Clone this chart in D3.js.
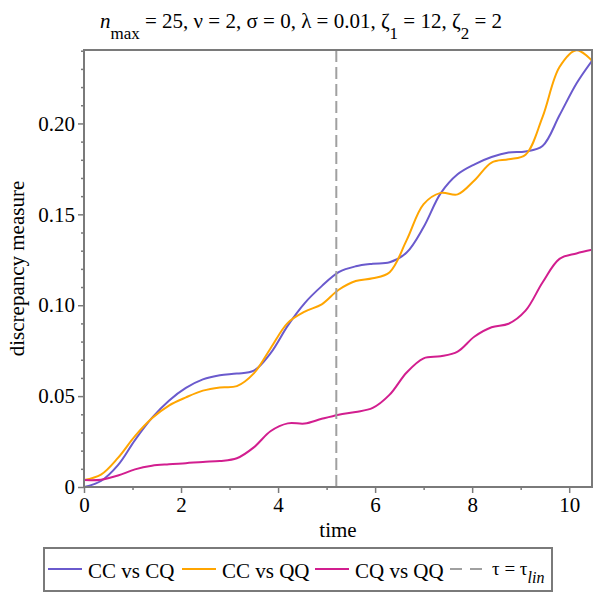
<!DOCTYPE html>
<html>
<head>
<meta charset="utf-8">
<script src="https://cdn.jsdelivr.net/npm/d3@7"></script>
<style>
body{margin:0;background:#fff;}
text{font-family:"Liberation Serif","Times New Roman",serif;fill:#000;}
</style>
</head>
<body>
<svg id="chart" width="600" height="600"></svg>
<script>
// values
let times=[0,0.35,0.7,1.05,1.4,1.75,2.1,2.45,2.8,3.15,3.5,3.85,4.2,4.55,4.9,5.25,5.6,5.95,6.3,6.65,7.0,7.35,7.7,8.05,8.4,8.75,9.1,9.45,9.8,10.15,10.47];

let ccCQ=[0,0.0033,0.012,0.0258,0.038,0.0475,0.0545,0.0592,0.0615,0.0624,0.064,0.0738,0.0888,0.1012,0.1105,0.1182,0.1214,0.1228,0.1236,0.129,0.143,0.1615,0.172,0.1775,0.1815,0.184,0.1846,0.1876,0.2045,0.222,0.2345];

let ccQQ=[0.0038,0.0068,0.016,0.028,0.0378,0.0448,0.0493,0.053,0.0548,0.0555,0.0625,0.0765,0.0903,0.0965,0.1005,0.1085,0.1133,0.1148,0.1182,0.1358,0.1556,0.1618,0.161,0.1688,0.1785,0.1803,0.1828,0.2035,0.231,0.2403,0.2345];

let cqQQ=[0.0038,0.004,0.0063,0.0097,0.0117,0.0125,0.0131,0.0138,0.0143,0.0158,0.0218,0.0308,0.035,0.0349,0.0375,0.0398,0.0413,0.0435,0.0508,0.063,0.0708,0.0719,0.0745,0.0828,0.0879,0.0898,0.097,0.1125,0.1255,0.1285,0.1305];

let seriesNames=["CC vs CQ","CC vs QQ","CQ vs QQ"];
let seriesCols=["#6a5acd","#ffa500","#d21e8f"];
let tauLin=5.2;
let xTicks=[0,2,4,6,8,10];
let xMinor=[1,3,5,7,9];
let yTicks=[0,0.05,0.10,0.15,0.20];
let yMinor=[0.01,0.02,0.03,0.04,0.06,0.07,0.08,0.09,0.11,0.12,0.13,0.14,0.16,0.17,0.18,0.19,0.21,0.22,0.23,0.24];

let svg=d3.select("#chart");
let L=84,R=592,T=50,B=487;
let axCol="#7a7a7a";
let serif="Liberation Serif";

let x=d3.scaleLinear().domain([0,10.47]).range([L,R]);
let y=d3.scaleLinear().domain([0,0.2404]).range([B,T]);

svg.append("defs").append("clipPath").attr("id","clip").append("rect").attr("x",L).attr("y",T-1).attr("width",R-L).attr("height",B-T+1);

// ticks
let gx=svg.append("g").attr("transform",`translate(0,${B})`).call(d3.axisBottom(x).tickValues(xTicks).tickFormat(d3.format("d")).tickSize(6).tickPadding(4));
let gxm=svg.append("g").attr("transform",`translate(0,${B})`).call(d3.axisBottom(x).tickValues(xMinor).tickFormat("").tickSize(3));
let gy=svg.append("g").attr("transform",`translate(${L},0)`).call(d3.axisLeft(y).tickValues(yTicks).tickFormat(d=>d==0?"0":d3.format(".2f")(d)).tickSize(6).tickPadding(3));
let gym=svg.append("g").attr("transform",`translate(${L},0)`).call(d3.axisLeft(y).tickValues(yMinor.filter(d=>d<=0.2404)).tickFormat("").tickSize(3));
[gx,gxm,gy,gym].forEach(g=>{
  g.select(".domain").remove();
  g.selectAll("line").attr("stroke",axCol).attr("stroke-width",1.5);
  g.selectAll("text").style("font-family",serif).style("font-size","21px").attr("fill","#000");
});

// series
let lineGen=d3.line().x(d=>x(d[0])).y(d=>y(d[1])).curve(d3.curveCatmullRom.alpha(0.5));
let allSeries=[ccCQ,ccQQ,cqQQ];
let plot=svg.append("g").attr("clip-path","url(#clip)");
allSeries.forEach((s,i)=>{
  plot.append("path").datum(times.map((t,k)=>[t,s[k]])).attr("d",lineGen).attr("fill","none").attr("stroke",seriesCols[i]).attr("stroke-width",2);
});

// tau_lin marker
svg.append("line").attr("x1",x(tauLin)).attr("x2",x(tauLin)).attr("y1",T).attr("y2",B).attr("stroke","#a0a0a0").attr("stroke-width",2).attr("stroke-dasharray","12,5");

// frame
svg.append("rect").attr("x",L).attr("y",T).attr("width",R-L).attr("height",B-T).attr("fill","none").attr("stroke",axCol).attr("stroke-width",2);

// title
let title=svg.append("text").attr("x",100).attr("y",28).style("font-family",serif).style("font-size","21px");
title.append("tspan").text("n").style("font-style","italic");
title.append("tspan").text("max").style("font-size","17px").attr("dy",11);
title.append("tspan").text(" = 25, ν = 2, σ = 0, λ = 0.01, ζ").attr("dy",-11);
title.append("tspan").text("1").style("font-size","17px").attr("dy",11);
title.append("tspan").text(" = 12, ζ").attr("dy",-11);
title.append("tspan").text("2").style("font-size","17px").attr("dy",11);
title.append("tspan").text(" = 2").attr("dy",-11);

// axis labels
svg.append("text").text("time").attr("x",(L+R)/2).attr("y",537).style("font-family",serif).style("text-anchor","middle").style("font-size","21px");
svg.append("text").text("discrepancy measure").attr("transform",`translate(24,${(T+B)/2}) rotate(-90)`).style("font-family",serif).style("text-anchor","middle").style("font-size","21px");

// legend
svg.append("rect").attr("x",44).attr("y",548).attr("width",508).attr("height",43).attr("fill","none").attr("stroke",axCol).attr("stroke-width",2);
let legX=[48,182,315,450];
let legY=569;
seriesNames.forEach((n,i)=>{
  svg.append("line").attr("x1",legX[i]).attr("x2",legX[i]+34).attr("y1",legY).attr("y2",legY).attr("stroke",seriesCols[i]).attr("stroke-width",2);
  svg.append("text").text(n).attr("x",legX[i]+40).attr("y",578).style("font-family",serif).style("font-size","21px");
});
svg.append("line").attr("x1",legX[3]).attr("x2",legX[3]+34).attr("y1",legY).attr("y2",legY).attr("stroke","#a0a0a0").attr("stroke-width",2).attr("stroke-dasharray","12,8");
let tl=svg.append("text").attr("x",legX[3]+42).attr("y",575).style("font-family",serif).style("font-size","19px");
tl.append("tspan").text("τ = τ");
tl.append("tspan").text("lin").style("font-style","italic").style("font-size","16px").attr("dy",8);
</script>
</body>
</html>
